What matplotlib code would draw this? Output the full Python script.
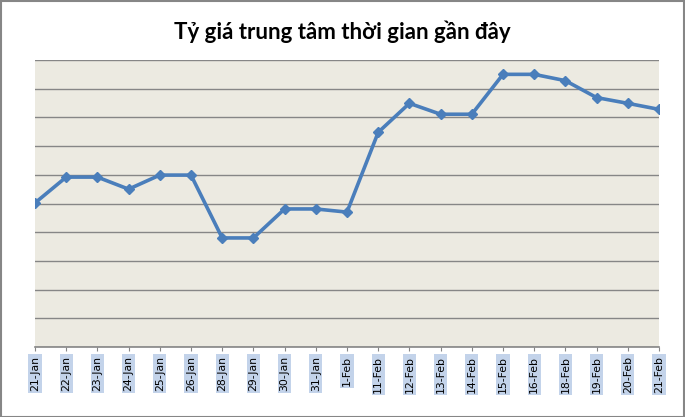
import numpy as np
import matplotlib.pyplot as plt
from matplotlib.patches import Rectangle

# data (y in gridline units, the reference shows no value axis)
dates = ["21-Jan", "22-Jan", "23-Jan", "24-Jan", "25-Jan", "26-Jan", "28-Jan",
         "29-Jan", "30-Jan", "31-Jan", "1-Feb", "11-Feb", "12-Feb", "13-Feb",
         "14-Feb", "15-Feb", "16-Feb", "18-Feb", "19-Feb", "20-Feb", "21-Feb"]
rate = [5.02, 5.92, 5.92, 5.50, 5.99, 5.99, 3.80, 3.80, 4.81, 4.81, 4.70,
        7.48, 8.49, 8.11, 8.11, 9.50, 9.50, 9.28, 8.69, 8.49, 8.28]

fig = plt.figure(figsize=(6.85, 4.17), dpi=100)
ax = fig.add_axes([35/685, 70/417, 624/685, 287/417])

x = np.arange(len(dates))
ax.plot(x, rate, color="#4a7ebb", lw=2.6, marker="D", ms=5,
        markeredgecolor="#4a7ebb", zorder=3)

ax.set_facecolor("#eceae1")
ax.set_xlim(0, len(dates) - 1)
ax.set_ylim(0, 10)
ax.set_yticks(np.arange(0, 11))
ax.yaxis.grid(True, color="#868686", lw=1.0)
ax.tick_params(axis="y", left=False, labelleft=False)
for s in ["left", "right", "top"]:
    ax.spines[s].set_visible(False)
ax.spines["bottom"].set_color("#868686")
ax.spines["bottom"].set_linewidth(1.2)

ax.set_xticks(x)
ax.set_xticklabels(dates, rotation=90, fontsize=7.8, family="DejaVu Sans")
ax.tick_params(axis="x", length=3, color="#868686", pad=3.5)
for lab in ax.get_xticklabels():
    lab.set_verticalalignment("top")
    lab.set_bbox(dict(facecolor="#c3d3ea", edgecolor="none", pad=1.2))

fig.text(0.5, 1 - 32/417, "Tỷ giá trung tâm thời gian gần đây",
         ha="center", va="center", fontsize=16, fontweight="bold",
         family=["Lato", "DejaVu Sans"])

fig.patches.append(Rectangle((0.001, 0.001), 0.998, 0.997,
                             transform=fig.transFigure, fill=False,
                             edgecolor="#868686", lw=1.5))

plt.savefig("out.png", dpi=100)
